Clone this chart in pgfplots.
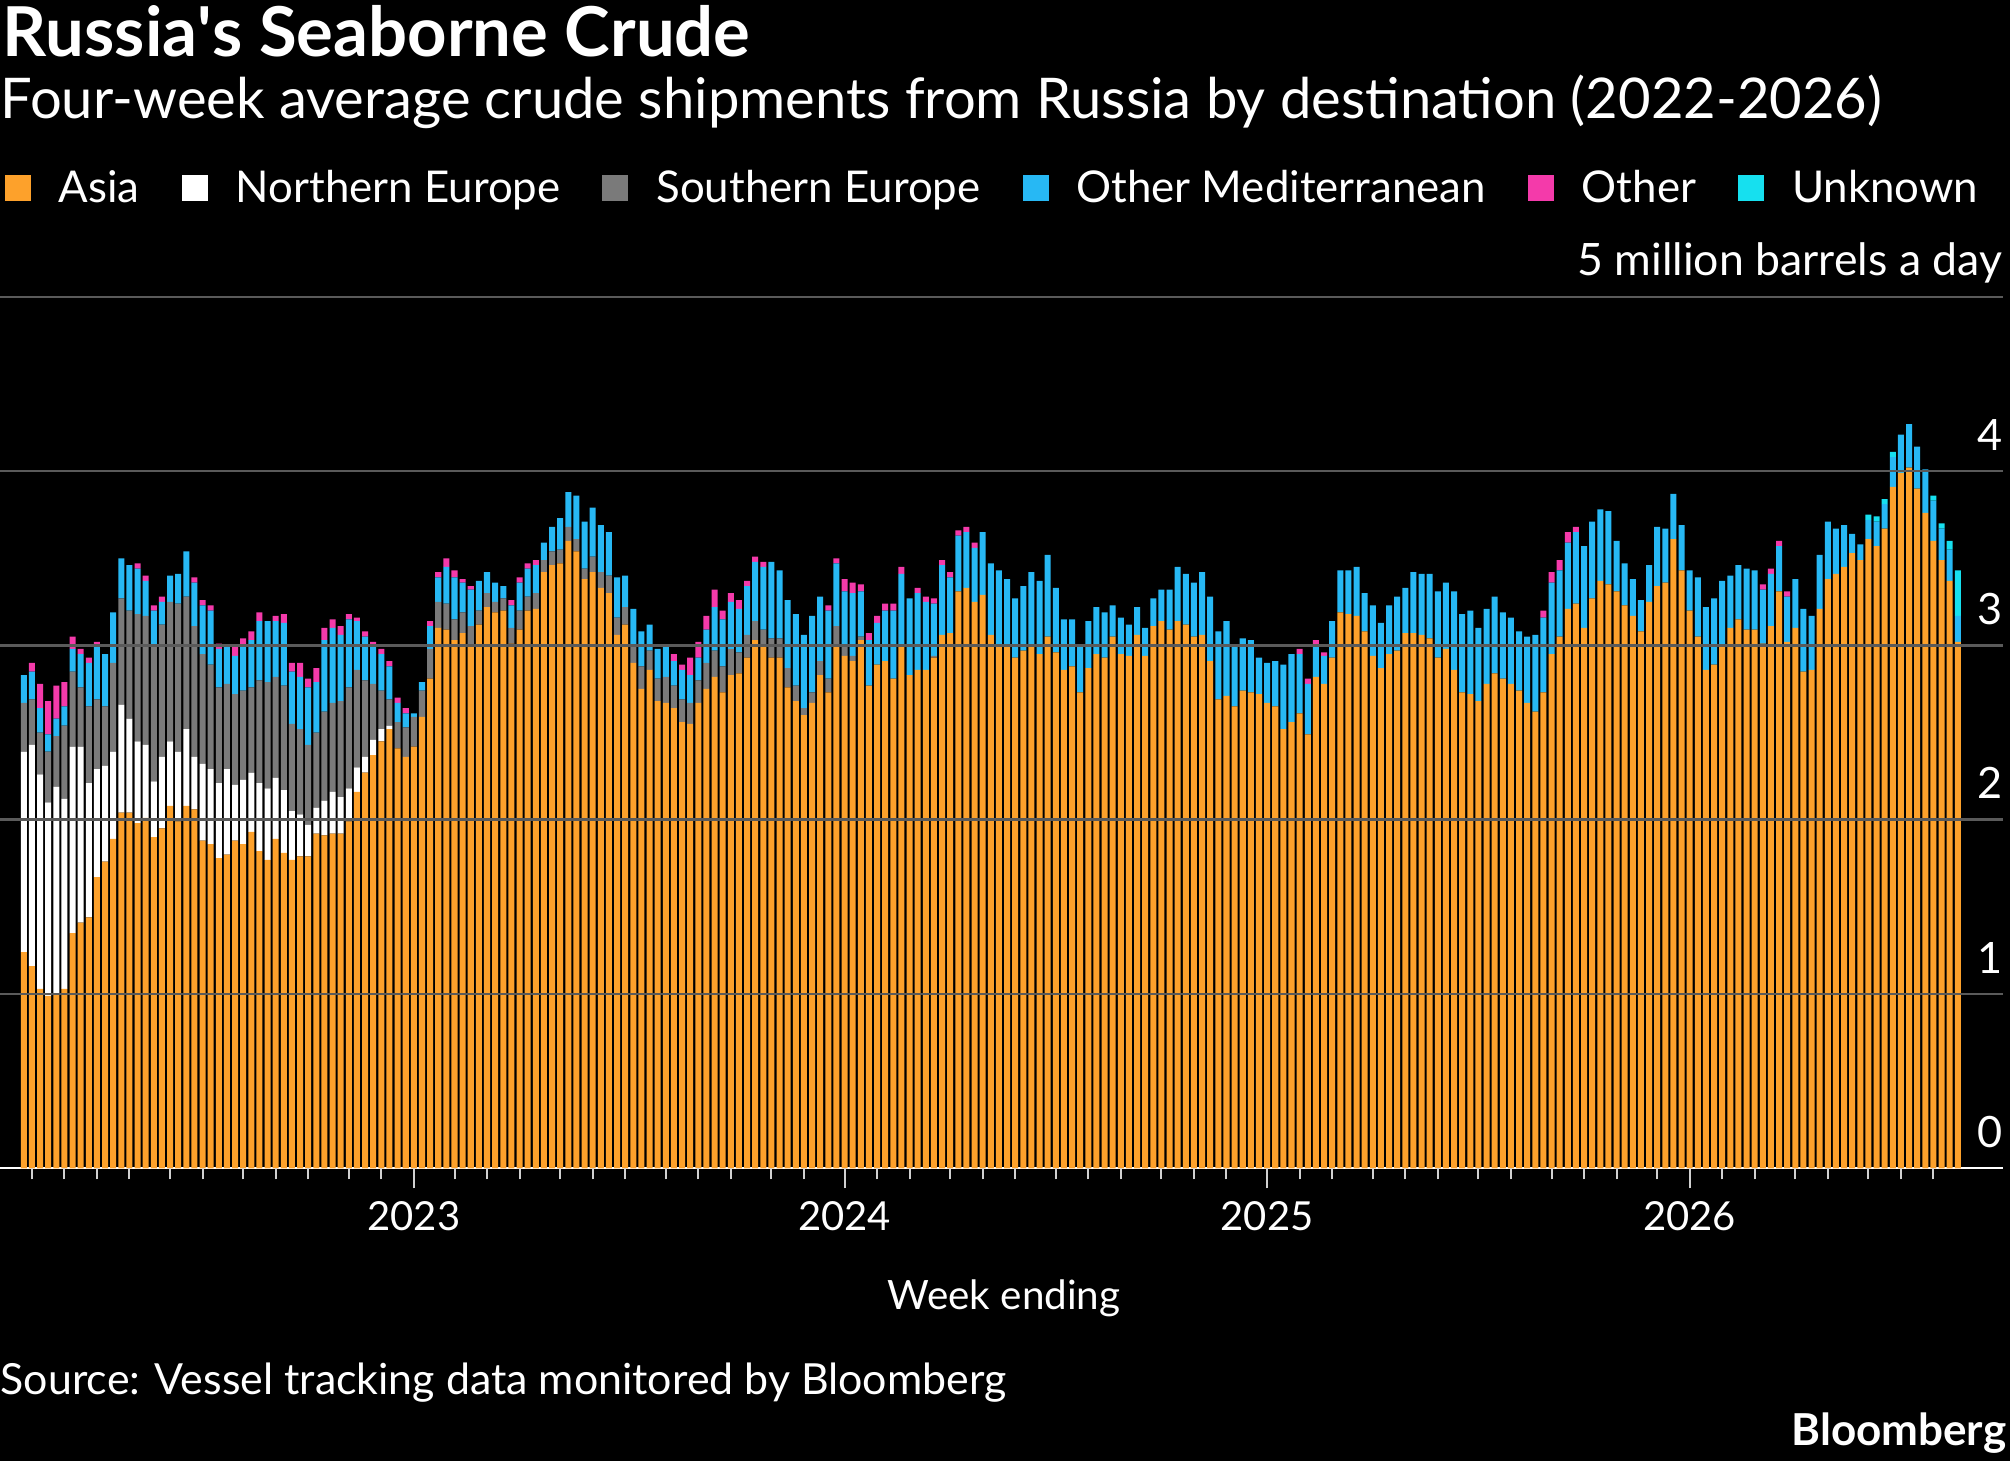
\documentclass[border=0pt]{standalone}
\usepackage{fontspec}
\setmainfont{Lato}
\usepackage{pgfplots}
\usepackage{pgfplotstable}
\pgfplotsset{compat=1.18}
\definecolor{asia}{HTML}{FDA12B}
\definecolor{neu}{HTML}{FFFFFF}
\definecolor{seu}{HTML}{7A7A7A}
\definecolor{omed}{HTML}{27B8F4}
\definecolor{oth}{HTML}{F43AAA}
\definecolor{unk}{HTML}{16E0EF}
\definecolor{gridgray}{HTML}{5A5A5A}
\definecolor{tickgray}{HTML}{D0D0D0}
\pgfplotstableread{
x a n s m o u
1 1.24 1.15 0.28 0.16 0 0
2 1.16 1.27 0.26 0.16 0.05 0
3 1.03 1.23 0.24 0.14 0.14 0
4 0.99 1.11 0.29 0.10 0.19 0
5 1.00 1.19 0.29 0.10 0.19 0
6 1.03 1.09 0.42 0.11 0.14 0
7 1.35 1.07 0.43 0.13 0.07 0
8 1.41 1.01 0.34 0.19 0.03 0
9 1.44 0.77 0.44 0.25 0.03 0
10 1.67 0.62 0.40 0.30 0.03 0
11 1.76 0.55 0.34 0.30 0 0
12 1.89 0.50 0.51 0.29 0 0
13 2.04 0.62 0.61 0.23 0 0
14 2.04 0.54 0.62 0.26 0 0
15 1.98 0.47 0.73 0.26 0.03 0
16 2.01 0.42 0.74 0.20 0.03 0
17 1.90 0.32 0.78 0.20 0.03 0
18 1.95 0.41 0.76 0.13 0.03 0
19 2.08 0.37 0.80 0.15 0 0
20 1.99 0.40 0.85 0.17 0 0
21 2.08 0.44 0.76 0.26 0 0
22 2.06 0.30 0.75 0.25 0.03 0
23 1.88 0.44 0.63 0.28 0.03 0
24 1.86 0.43 0.60 0.31 0.03 0
25 1.78 0.43 0.55 0.22 0.03 0
26 1.80 0.49 0.49 0.22 0 0
27 1.88 0.32 0.52 0.22 0.05 0
28 1.86 0.37 0.51 0.25 0.05 0
29 1.93 0.34 0.49 0.27 0.05 0
30 1.82 0.39 0.59 0.34 0.05 0
31 1.77 0.41 0.61 0.35 0 0
32 1.89 0.35 0.58 0.32 0.03 0
33 1.81 0.36 0.60 0.36 0.05 0
34 1.77 0.28 0.50 0.30 0.05 0
35 1.79 0.24 0.49 0.30 0.08 0
36 1.79 0.18 0.46 0.33 0.05 0
37 1.92 0.15 0.43 0.29 0.08 0
38 1.91 0.20 0.51 0.41 0.07 0
39 1.92 0.24 0.51 0.43 0.05 0
40 1.92 0.21 0.55 0.38 0.05 0
41 1.99 0.19 0.58 0.39 0.03 0
42 2.16 0.14 0.56 0.28 0.02 0
43 2.27 0.09 0.44 0.25 0.03 0
44 2.37 0.09 0.32 0.21 0.03 0
45 2.45 0.07 0.22 0.21 0.03 0
46 2.52 0.02 0.15 0.19 0.03 0
47 2.41 0 0.15 0.11 0.03 0
48 2.36 0 0.17 0.08 0.03 0
49 2.42 0 0.17 0.02 0 0
50 2.59 0 0.15 0.05 0 0
51 2.81 0 0.17 0.13 0.03 0
52 3.10 0 0.15 0.14 0.03 0
53 3.09 0 0.15 0.21 0.05 0
54 3.03 0 0.12 0.24 0.04 0
55 3.07 0 0.12 0.17 0.02 0
56 3.00 0 0.11 0.21 0.02 0
57 3.12 0 0.08 0.17 0 0
58 3.22 0 0.08 0.12 0 0
59 3.19 0 0.06 0.11 0 0
60 3.20 0 0.07 0.07 0 0
61 3.01 0 0.09 0.13 0.03 0
62 3.09 0 0.11 0.16 0.03 0
63 3.20 0 0.08 0.16 0.03 0
64 3.21 0 0.09 0.16 0.03 0
65 3.42 0 0.07 0.10 0 0
66 3.46 0 0.08 0.14 0 0
67 3.47 0 0.08 0.18 0 0
68 3.60 0 0.08 0.20 0 0
69 3.54 0 0.07 0.25 0 0
70 3.38 0 0.06 0.27 0 0
71 3.42 0 0.09 0.28 0 0
72 3.33 0 0.09 0.27 0 0
73 3.30 0 0.10 0.25 0 0
74 3.06 0 0.10 0.23 0 0
75 3.12 0 0.10 0.18 0 0
76 2.90 0 0.10 0.21 0 0
77 2.75 0 0.13 0.20 0 0
78 2.86 0 0.11 0.15 0 0
79 2.68 0 0.13 0.17 0 0
80 2.67 0 0.15 0.17 0 0
81 2.64 0 0.13 0.14 0.04 0
82 2.56 0 0.13 0.17 0.03 0
83 2.55 0 0.12 0.16 0.10 0
84 2.67 0 0.13 0.13 0.09 0
85 2.75 0 0.15 0.19 0.08 0
86 2.82 0 0.15 0.25 0.10 0
87 2.73 0 0.15 0.27 0.05 0
88 2.83 0 0.15 0.27 0.05 0
89 2.84 0 0.12 0.25 0.05 0
90 2.93 0 0.13 0.28 0.03 0
91 3.03 0 0.11 0.34 0.03 0
92 3.00 0 0.09 0.36 0.03 0
93 2.93 0 0.11 0.44 0 0
94 2.93 0 0.11 0.39 0 0
95 2.76 0 0.11 0.39 0 0
96 2.68 0 0.09 0.41 0 0
97 2.60 0 0.04 0.42 0 0
98 2.67 0 0.06 0.44 0 0
99 2.83 0 0.08 0.37 0 0
100 2.73 0 0.08 0.39 0.03 0
101 3.00 0 0.11 0.36 0.03 0
102 2.94 0 0.06 0.31 0.07 0
103 2.91 0 0.03 0.36 0.06 0
104 3.03 0 0.02 0.26 0.04 0
105 2.77 0 0 0.26 0.04 0
106 2.89 0 0 0.24 0.04 0
107 2.91 0 0 0.29 0.04 0
108 2.81 0 0 0.39 0.04 0
109 3.00 0 0 0.41 0.04 0
110 2.83 0 0 0.44 0 0
111 2.86 0 0 0.44 0.03 0
112 2.86 0 0 0.39 0.03 0
113 2.93 0 0.01 0.30 0.03 0
114 3.06 0 0 0.40 0.03 0
115 3.07 0 0 0.32 0.03 0
116 3.31 0 0 0.32 0.03 0
117 3.33 0 0 0.32 0.03 0
118 3.25 0 0 0.31 0.03 0
119 3.29 0 0 0.36 0 0
120 3.06 0 0 0.41 0 0
121 2.99 0 0 0.44 0 0
122 2.99 0 0 0.39 0 0
123 2.93 0 0 0.34 0 0
124 2.97 0 0 0.37 0 0
125 3.00 0 0 0.42 0 0
126 2.95 0 0 0.42 0 0
127 3.05 0 0 0.47 0 0
128 2.96 0 0 0.37 0 0
129 2.86 0 0 0.29 0 0
130 2.88 0 0 0.27 0 0
131 2.73 0 0 0.27 0 0
132 2.87 0 0 0.27 0 0
133 2.95 0 0 0.27 0 0
134 2.93 0 0 0.26 0 0
135 3.05 0 0 0.18 0 0
136 2.95 0 0 0.21 0 0
137 2.94 0 0 0.18 0 0
138 3.06 0 0 0.16 0 0
139 2.94 0 0 0.16 0 0
140 3.11 0 0 0.16 0 0
141 3.14 0 0 0.18 0 0
142 3.09 0 0 0.23 0 0
143 3.14 0 0 0.31 0 0
144 3.12 0 0 0.29 0 0
145 3.05 0 0 0.31 0 0
146 3.06 0 0 0.36 0 0
147 2.91 0 0 0.37 0 0
148 2.69 0 0 0.39 0 0
149 2.71 0 0 0.43 0 0
150 2.65 0 0 0.35 0 0
151 2.74 0 0 0.30 0 0
152 2.73 0 0 0.30 0 0
153 2.72 0 0 0.21 0 0
154 2.67 0 0 0.23 0 0
155 2.65 0 0 0.26 0 0
156 2.52 0 0 0.37 0 0
157 2.56 0 0 0.39 0 0
158 2.61 0 0 0.34 0.03 0
159 2.49 0 0 0.29 0.03 0
160 2.82 0 0 0.18 0.03 0
161 2.78 0 0 0.16 0.02 0
162 2.93 0 0 0.21 0 0
163 3.19 0 0 0.24 0 0
164 3.18 0 0 0.25 0 0
165 3.17 0 0 0.28 0 0
166 3.08 0 0 0.22 0 0
167 2.94 0 0 0.29 0 0
168 2.87 0 0 0.26 0 0
169 2.95 0 0 0.28 0 0
170 2.97 0 0 0.31 0 0
171 3.07 0 0 0.26 0 0
172 3.07 0 0 0.35 0 0
173 3.06 0 0 0.35 0 0
174 3.04 0 0 0.37 0 0
175 2.93 0 0 0.38 0 0
176 2.98 0 0 0.38 0 0
177 2.86 0 0 0.45 0 0
178 2.73 0 0 0.45 0 0
179 2.72 0 0 0.48 0 0
180 2.68 0 0 0.42 0 0
181 2.78 0 0 0.43 0 0
182 2.84 0 0 0.44 0 0
183 2.81 0 0 0.38 0 0
184 2.78 0 0 0.38 0 0
185 2.74 0 0 0.34 0 0
186 2.67 0 0 0.38 0 0
187 2.62 0 0 0.44 0 0
188 2.73 0 0 0.43 0.04 0
189 2.95 0 0 0.41 0.06 0
190 3.05 0 0 0.38 0.06 0
191 3.21 0 0 0.38 0.06 0
192 3.24 0 0 0.41 0.03 0
193 3.10 0 0 0.47 0 0
194 3.27 0 0 0.44 0 0
195 3.37 0 0 0.41 0 0
196 3.35 0 0 0.42 0 0
197 3.31 0 0 0.29 0 0
198 3.23 0 0 0.24 0 0
199 3.17 0 0 0.21 0 0
200 3.08 0 0 0.18 0 0
201 3.25 0 0 0.21 0 0
202 3.34 0 0 0.34 0 0
203 3.36 0 0 0.31 0 0
204 3.61 0 0 0.26 0 0
205 3.43 0 0 0.26 0 0
206 3.20 0 0 0.23 0 0
207 3.05 0 0 0.34 0 0
208 2.86 0 0 0.36 0 0
209 2.89 0 0 0.38 0 0
210 2.99 0 0 0.38 0 0
211 3.10 0 0 0.30 0 0
212 3.15 0 0 0.31 0 0
213 3.09 0 0 0.35 0 0
214 3.09 0 0 0.34 0 0
215 3.01 0 0 0.31 0.03 0
216 3.11 0 0 0.30 0.03 0
217 3.31 0 0 0.26 0.03 0
218 3.02 0 0 0.26 0.03 0
219 3.10 0 0 0.28 0 0
220 2.85 0 0 0.36 0 0
221 2.86 0 0 0.31 0 0
222 3.21 0 0 0.31 0 0
223 3.38 0 0 0.33 0 0
224 3.41 0 0 0.26 0 0
225 3.45 0 0 0.24 0 0
226 3.53 0 0 0.11 0 0
227 3.49 0 0 0.09 0 0
228 3.61 0 0 0.11 0 0.03
229 3.57 0 0 0.14 0 0.03
230 3.67 0 0 0.14 0 0.03
231 3.91 0 0 0.17 0 0.03
232 3.99 0 0 0.22 0 0
233 4.02 0 0 0.25 0 0
234 3.90 0 0 0.24 0 0
235 3.76 0 0 0.25 0 0
236 3.60 0 0 0.23 0 0.03
237 3.49 0 0 0.18 0 0.03
238 3.37 0 0 0.18 0 0.05
239 3.02 0 0 0.15 0 0.26
}\datatable
\pgfplotsset{sq/.style={legend image code/.code={\fill[##1] (0pt,-3.25pt) rectangle (6.5pt,3.25pt);}}}
\begin{document}
\begin{tikzpicture}[x=0.25pt,y=0.25pt]
\fill[black] (0,0) rectangle (2010,1461);
\path[use as bounding box] (0,0) rectangle (2010,1461);
\begin{axis}[
  at={(0pt,73.175pt)}, anchor=south west,
  scale only axis, width=500.75pt, height=217.875pt,
  xmin=-1.93, xmax=244.56, ymin=0, ymax=5,
  enlargelimits=false,
  ybar stacked, bar width=0.74,
  axis line style={draw=none},
  axis on top,
  ytick={1,2,3,4,5}, yticklabels={}, ymajorgrids,
  grid style={color=gridgray, line width=0.65pt},
  ytick style={draw=none},
  xtick={49,102,154,206}, xticklabels={},
  minor xtick={2,6,10,14,19,23,28,32,36,41,45,54,58,62,67,71,75,80,84,88,93,97,106,110,115,119,123,128,132,136,141,145,149,158,162,167,171,175,180,184,189,193,197,202,210,214,219,223,228,232,236},
  xtick pos=left,
  tick align=outside,
  major tick length=5pt, minor tick length=2.75pt,
  tick style={color=tickgray, line width=0.5pt},
  legend columns=6,
  legend style={at={(0.002,1.1249)}, anchor=west, draw=none, fill=none,
    text=white, font=\fontsize{10.95}{13}\selectfont, inner sep=0pt,
    nodes={inner sep=0pt, text height=0.72em, text depth=0pt},
    /tikz/every even column/.append style={column sep=10.5pt},
    /tikz/every odd column/.append style={column sep=7pt}},
]
\addplot[fill=asia, draw=none, sq] table[x=x,y=a] {\datatable};
\addplot[fill=neu, draw=none, sq] table[x=x,y=n] {\datatable};
\addplot[fill=seu, draw=none, sq] table[x=x,y=s] {\datatable};
\addplot[fill=omed, draw=none, sq] table[x=x,y=m] {\datatable};
\addplot[fill=oth, draw=none, sq] table[x=x,y=o] {\datatable};
\addplot[fill=unk, draw=none, sq] table[x=x,y=u] {\datatable};
\legend{Asia, Northern Europe, Southern Europe, Other Mediterranean, Other, Unknown}
\draw[white, line width=0.55pt] (axis cs:-1.93,0) -- (axis cs:244.56,0);
\end{axis}
\node[anchor=base west, text=white, inner sep=0pt, font=\fontsize{17.2}{20}\selectfont\bfseries] at (2,1405) {Russia\textquotesingle s Seaborne Crude};
\node[anchor=base west, text=white, inner sep=0pt, font=\fontsize{14.03}{16}\selectfont] at (0,1343) {Four-week average crude shipments from Russia by destination (2022-2026)};
\node[anchor=base east, text=white, inner sep=0pt, font=\fontsize{11.15}{13}\selectfont] at (2003,1185.2) {5 million barrels a day};
\foreach \v/\Y in {0/313.7,1/488,2/662.3,3/836.6,4/1010.9}
  \node[anchor=base east, text=white, inner sep=0pt, font=\fontsize{10.8}{12}\selectfont] at (2003,\Y) {\v};
\foreach \X/\lab in {413.8/2023,844.5/2024,1267.1/2025,1689.6/2026}
  \node[anchor=base, text=white, inner sep=0pt, font=\fontsize{10}{12}\selectfont] at (\X,231) {\lab};
\node[anchor=base, text=white, inner sep=0pt, font=\fontsize{10.1}{12}\selectfont] at (1004,152) {Week ending};
\node[anchor=base west, text=white, inner sep=0pt, font=\fontsize{10.72}{12}\selectfont] at (0,67) {Source: Vessel tracking data monitored by Bloomberg};
\node[anchor=base east, text=white, inner sep=0pt, font=\fontsize{11}{13}\selectfont\bfseries] at (2007,16) {Bloomberg};
\end{tikzpicture}
\end{document}
